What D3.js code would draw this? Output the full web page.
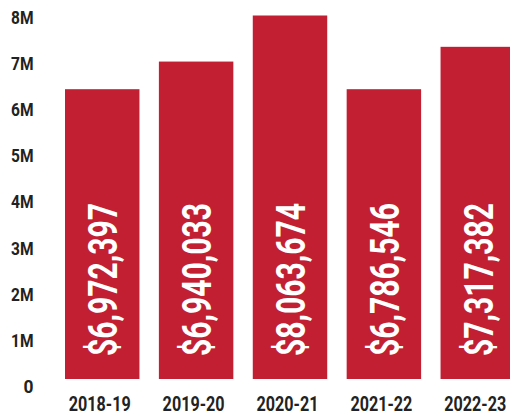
<!DOCTYPE html>
<html><head><meta charset="utf-8">
<script src="https://cdn.jsdelivr.net/npm/d3@7"></script>
<style>
html,body{margin:0;padding:0;background:#fff;}
svg{display:block;}
.lbl{font-family:"Roboto","Liberation Sans Narrow","DejaVu Sans Condensed",sans-serif;font-weight:bold;}
</style></head>
<body><svg id="c" width="510" height="415"></svg>
<script>
const categories = ["2018-19","2019-20","2020-21","2021-22","2022-23"];
// bar heights as drawn (millions)
const barHeights = [6.4, 7.0, 8.0, 6.4, 7.32];
const barLabels = ["$6,972,397","$6,940,033","$8,063,674","$6,786,546","$7,317,382"];
const yTicks = [0,1,2,3,4,5,6,7,8];
const yTickLabels = ["0","1M","2M","3M","4M","5M","6M","7M","8M"];

const svg = d3.select("#c");
const red = "#C21F32";
const ink = "#222222";
const x = d3.scaleBand().domain(categories).range([65,515]).paddingInner(0.207).paddingOuter(0);
const y = d3.scaleLinear().domain([0,8]).range([384,15.5]);
const base = y(0) - 5;

svg.selectAll("rect.bar").data(categories).join("rect")
  .attr("class","bar")
  .attr("x", d => x(d))
  .attr("width", x.bandwidth())
  .attr("y", (d,i) => y(barHeights[i]))
  .attr("height", (d,i) => base - y(barHeights[i]))
  .attr("fill", red);

svg.selectAll("text.val").data(categories).join("text")
  .attr("class","val lbl")
  .attr("transform", d => `translate(${x(d)+x.bandwidth()/2+15},356) rotate(-90)`)
  .attr("text-anchor","start")
  .attr("font-size", 41)
  .attr("fill","#fff")
  .attr("textLength", 153)
  .attr("lengthAdjust","spacingAndGlyphs")
  .text((d,i) => barLabels[i]);

const yRight = 33.5;
const yAxis = svg.append("g")
  .call(d3.axisLeft(y).tickValues(yTicks).tickSize(0).tickPadding(0)
        .tickFormat(d => yTickLabels[yTicks.indexOf(d)]));
yAxis.select(".domain").remove();
yAxis.selectAll("text").each(function(){
  const t = d3.select(this);
  const len = t.text().length === 1 ? 10 : 22.5;
  t.attr("class","lbl").attr("font-size",18.7).attr("fill",ink)
   .attr("dy","0.44em").attr("font-family",null)
   .attr("text-anchor","start").attr("x", 0).attr("y",0);
  const w = this.getComputedTextLength();
  const g = d3.select(this.parentNode);
  t.attr("transform", `translate(${yRight - len},0) scale(${len / w},1)`);
});

const xLen = 62;
const xAxis = svg.append("g")
  .call(d3.axisBottom(x).tickSize(0).tickPadding(0));
xAxis.attr("transform","translate(-2.5,410.5)");
xAxis.select(".domain").remove();
xAxis.selectAll("text").each(function(){
  const t = d3.select(this);
  t.attr("class","lbl").attr("font-size",20).attr("fill",ink)
   .attr("y",0).attr("dy",0).attr("font-family",null)
   .attr("text-anchor","start").attr("x", 0);
  const w = this.getComputedTextLength();
  t.attr("transform", `translate(${-xLen/2},0) scale(${xLen / w},1)`);
});
</script></body></html>
